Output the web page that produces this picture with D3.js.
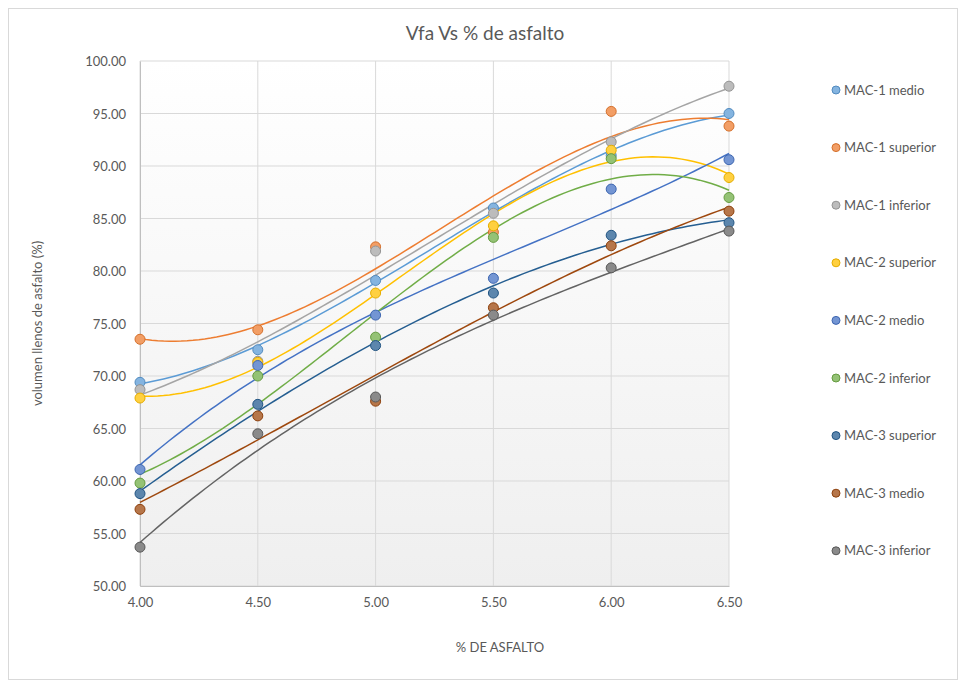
<!DOCTYPE html>
<html>
<head>
<meta charset="utf-8">
<script src="https://cdn.jsdelivr.net/npm/d3@7"></script>
<style>
	body { margin: 0; background: #fff; }
	text { font-family: Lato, "Liberation Sans", sans-serif; fill: #595959; }
</style>
</head>
<body>
<svg id="chart" width="965" height="682"></svg>
<script>
/*Data*/
var asfalto = [4.0, 4.5, 5.0, 5.5, 6.0, 6.5];
var seriesNames = ["MAC-1 medio", "MAC-1 superior", "MAC-1 inferior", "MAC-2 superior", "MAC-2 medio",
	"MAC-2 inferior", "MAC-3 superior", "MAC-3 medio", "MAC-3 inferior"];
var mac1Medio = [69.4, 72.5, 79.1, 86.0, 91.0, 95.0];
var mac1Superior = [73.5, 74.4, 82.3, 83.7, 95.2, 93.8];
var mac1Inferior = [68.7, 71.4, 81.9, 85.5, 92.3, 97.6];
var mac2Superior = [67.9, 71.3, 77.9, 84.3, 91.5, 88.9];
var mac2Medio = [61.1, 71.0, 75.8, 79.3, 87.8, 90.6];
var mac2Inferior = [59.8, 70.0, 73.7, 83.2, 90.7, 87.0];
var mac3Superior = [58.8, 67.3, 72.9, 77.9, 83.4, 84.6];
var mac3Medio = [57.3, 66.2, 67.6, 76.5, 82.4, 85.7];
var mac3Inferior = [53.7, 64.5, 68.0, 75.8, 80.3, 83.8];
var yTicks = [50, 55, 60, 65, 70, 75, 80, 85, 90, 95, 100];
var xTicks = [4.0, 4.5, 5.0, 5.5, 6.0, 6.5];

var allValues = [mac1Medio, mac1Superior, mac1Inferior, mac2Superior, mac2Medio,
	mac2Inferior, mac3Superior, mac3Medio, mac3Inferior];
var colors = ["#5B9BD5", "#ED7D31", "#A5A5A5", "#FFC000", "#4472C4", "#70AD47", "#255E91", "#9E480E", "#636363"];
/*trendline order per series (polynomial)*/
var orders = [3, 3, 3, 3, 3, 3, 3, 3, 3];

var margin = {top: 61, left: 140, right: 236, bottom: 96};
var width = 965 - margin.left - margin.right;
var height = 682 - margin.top - margin.bottom;

var svg = d3.select("#chart");

/*chart border*/
svg.append("rect")
	.attr("x", 8.5).attr("y", 8.5)
	.attr("width", 949).attr("height", 671)
	.attr("fill", "#fff").attr("stroke", "#d9d9d9");

/*plot background gradient*/
var grad = svg.append("defs").append("linearGradient")
	.attr("id", "bg").attr("x1", 0).attr("y1", 0).attr("x2", 0).attr("y2", 1);
grad.append("stop").attr("offset", "0%").attr("stop-color", "#ffffff");
grad.append("stop").attr("offset", "100%").attr("stop-color", "#efefef");

var xScale = d3.scaleLinear().domain([4, 6.5]).range([0, width]);
var yScale = d3.scaleLinear().domain([50, 100]).range([height, 0]);

var g = svg.append("g").attr("transform", "translate(" + margin.left + "," + margin.top + ")");

g.append("rect").attr("width", width).attr("height", height).attr("fill", "url(#bg)");

/*Grid lines*/
g.selectAll(".hgrid").data(yTicks).enter().append("line")
	.attr("x1", 0).attr("x2", width)
	.attr("y1", function(d) { return yScale(d); })
	.attr("y2", function(d) { return yScale(d); })
	.attr("stroke", "#d9d9d9");
g.selectAll(".vgrid").data(xTicks).enter().append("line")
	.attr("y1", 0).attr("y2", height)
	.attr("x1", function(d) { return xScale(d); })
	.attr("x2", function(d) { return xScale(d); })
	.attr("stroke", "#d9d9d9");

/*Axes*/
var xAxis = d3.axisBottom(xScale).tickValues(xTicks).tickFormat(d3.format(".2f")).tickSize(0).tickPadding(12);
var yAxis = d3.axisLeft(yScale).tickValues(yTicks).tickFormat(d3.format(".2f")).tickSize(0).tickPadding(14);

g.append("g").attr("transform", "translate(0," + height + ")").call(xAxis)
	.call(function(a) {
		a.select(".domain").attr("stroke", "#bfbfbf");
		a.selectAll("text").style("font-size", "13px").attr("fill", "#595959");
	});
g.append("g").call(yAxis)
	.call(function(a) {
		a.select(".domain").attr("stroke", "#bfbfbf");
		a.selectAll("text").style("font-size", "13px").attr("fill", "#595959").attr("dy", "0.35em");
	});

/*least squares polynomial fit, like the spreadsheet trendline*/
function polyFit(xs, ys, order) {
	var n = order + 1, A = [], i, j, k;
	for (i = 0; i < n; i++) {
		A.push([]);
		for (j = 0; j < n; j++) {
			A[i].push(d3.sum(xs, function(x) { return Math.pow(x, i + j); }));
		}
		A[i].push(d3.sum(xs, function(x, idx) { return Math.pow(x, i) * ys[idx]; }));
	}
	for (i = 0; i < n; i++) {
		var p = i;
		for (k = i + 1; k < n; k++) if (Math.abs(A[k][i]) > Math.abs(A[p][i])) p = k;
		var tmp = A[i]; A[i] = A[p]; A[p] = tmp;
		for (k = i + 1; k < n; k++) {
			var f = A[k][i] / A[i][i];
			for (j = i; j <= n; j++) A[k][j] -= f * A[i][j];
		}
	}
	var c = new Array(n);
	for (i = n - 1; i >= 0; i--) {
		var s = A[i][n];
		for (j = i + 1; j < n; j++) s -= A[i][j] * c[j];
		c[i] = s / A[i][i];
	}
	return function(x) {
		var v = 0;
		for (var m = 0; m < n; m++) v += c[m] * Math.pow(x, m);
		return v;
	};
}

var trendLine = d3.line()
	.x(function(d) { return xScale(d[0]); })
	.y(function(d) { return yScale(d[1]); });

var samples = d3.range(0, 101).map(function(i) { return 4 + 2.5 * i / 100; });

allValues.forEach(function(vals, s) {
	var fit = polyFit(asfalto, vals, orders[s]);
	g.append("path")
		.datum(samples.map(function(x) { return [x, fit(x)]; }))
		.attr("d", trendLine)
		.attr("fill", "none")
		.attr("stroke", colors[s])
		.attr("stroke-width", 1.5);
});

/*markers*/
allValues.forEach(function(vals, s) {
	g.selectAll(".pt" + s).data(vals).enter().append("circle")
		.attr("cx", function(d, i) { return xScale(asfalto[i]); })
		.attr("cy", function(d) { return yScale(d); })
		.attr("r", 5)
		.attr("fill", d3.interpolateRgb(colors[s], "#fff")(0.25))
		.attr("stroke", d3.color(colors[s]).darker(0.3))
		.attr("stroke-width", 1);
});

/*Titles*/
svg.append("text").attr("x", 485).attr("y", 40).attr("text-anchor", "middle")
	.style("font-size", "19px").text("Vfa Vs % de asfalto");
svg.append("text").attr("x", 500).attr("y", 652).attr("text-anchor", "middle")
	.style("font-size", "13px").text("% DE ASFALTO");
svg.append("text").attr("transform", "translate(42," + (margin.top + height / 2) + ") rotate(-90)")
	.attr("text-anchor", "middle").style("font-size", "13px").text("volumen llenos de asfalto (%)");

/*Legend*/
var legend = svg.append("g").attr("transform", "translate(836,90)");
seriesNames.forEach(function(name, s) {
	var row = legend.append("g").attr("transform", "translate(0," + (s * 57.6) + ")");
	row.append("circle").attr("r", 4)
		.attr("fill", d3.interpolateRgb(colors[s], "#fff")(0.25))
		.attr("stroke", d3.color(colors[s]).darker(0.3));
	row.append("text").attr("x", 8).attr("dy", "0.35em").style("font-size", "13px").text(name);
});
</script>
</body>
</html>
